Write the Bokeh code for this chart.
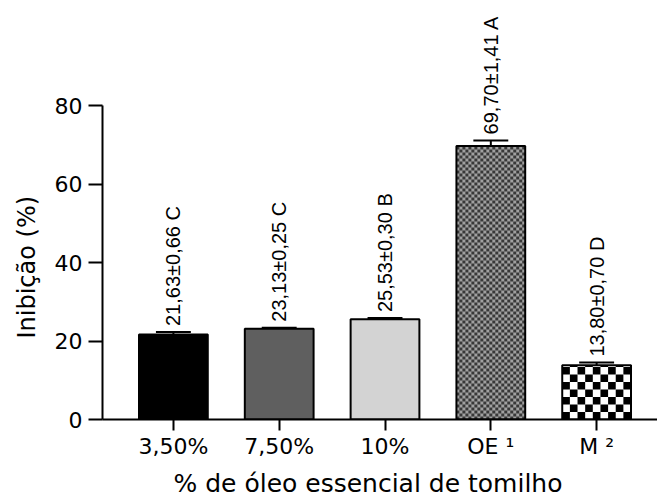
import numpy as np
from bokeh.plotting import figure
from bokeh.models import FixedTicker, Range1d, Title
from bokeh.core.properties import value
from bokeh.embed import file_html
from bokeh.resources import INLINE

# ---- data ----
categories = ["3,50%", "7,50%", "10%", "OE \u00b9", "M \u00b2"]
means = [21.63, 23.13, 25.53, 69.70, 13.80]
sds = [0.66, 0.25, 0.30, 1.41, 0.70]
letters = ["C", "C", "B", "A", "D"]
y_ticks = [0, 20, 40, 60, 80]
x_title = "% de \u00f3leo essencial de tomilho"
y_title = "Inibi\u00e7\u00e3o (%)"

# ---- styles ----
fills = ["#000000", "#5f5f5f", "#d3d3d3", "#a0a0a0", "#ffffff"]
checker_colors = [None, None, None, "#383838", "#000000"]
checker_px = [None, None, None, 3.0, 7.5]
FONT = "DejaVu Sans"
ANN_FONT = "Liberation Sans"

W, H = 657, 503
BL, BR, BT, BB = 101, 0, 0, 84
FW, FH = W - BL - BR, H - BT - BB
PX_X = 106.0            # px per category
PX_Y = 314.0 / 80.0     # px per y unit
x_start = -0.67
x_end = x_start + FW / PX_X
y_end = FH / PX_Y

xs = np.arange(len(categories), dtype=float)
m = np.array(means)
s = np.array(sds)
up = m + s
bw = 0.65

p = figure(width=W, height=H, output_backend="svg", toolbar_location=None,
           x_range=Range1d(x_start, x_end), y_range=Range1d(0, y_end),
           min_border_left=BL, min_border_right=BR, min_border_top=BT,
           min_border_bottom=BB)
p.outline_line_color = None
p.grid.visible = False
p.background_fill_color = "white"

# bars (fill)
p.vbar(x=xs, top=m, width=bw, bottom=0, fill_color=fills, line_color=None)

# checker patterns
ql, qr, qb, qt, qc = [], [], [], [], []
for i in range(len(categories)):
    col = checker_colors[i]
    if col is None:
        continue
    cpx = checker_px[i]
    ncols = int(round(bw * PX_X / cpx))
    dx = bw / ncols
    dy = cpx / PX_Y
    nrows = int(np.ceil(m[i] / dy))
    for r in range(nrows):
        for c in range(ncols):
            if (r + c) % 2 == 0:
                ql.append(xs[i] - bw / 2 + c * dx)
                qr.append(xs[i] - bw / 2 + (c + 1) * dx)
                qb.append(r * dy)
                qt.append(min((r + 1) * dy, m[i]))
                qc.append(col)
p.quad(left=ql, right=qr, bottom=qb, top=qt, fill_color=qc, line_color=None)

# bar outlines
p.vbar(x=xs, top=m, width=bw, bottom=0, fill_color=None, line_color="black",
       line_width=2)

# error bars (upper only)
cap = 0.165
p.segment(x0=xs, y0=m, x1=xs, y1=up, line_color="black", line_width=2)
p.segment(x0=xs - cap, y0=up, x1=xs + cap, y1=up, line_color="black", line_width=2)

# annotations
labels = [f"{a:.2f}\u00b1{b:.2f} {l}".replace(".", ",") for a, b, l in zip(means, sds, letters)]
p.text(x=xs, y=up + 6 / PX_Y, text=labels, angle=np.pi / 2, text_align="left",
       text_baseline="middle", text_font=value(ANN_FONT), text_font_size="20px",
       text_color="black")

# axes
p.yaxis.ticker = FixedTicker(ticks=y_ticks)
p.yaxis.bounds = (y_ticks[0], y_ticks[-1])
p.xaxis.ticker = FixedTicker(ticks=list(xs))
p.xaxis.major_label_overrides = {int(i): c for i, c in zip(xs, categories)}
for ax in (p.xaxis[0], p.yaxis[0]):
    ax.axis_line_width = 2
    ax.axis_line_color = "black"
    ax.major_tick_line_width = 2
    ax.major_tick_line_color = "black"
    ax.major_tick_in = 0
    ax.minor_tick_line_color = None
    ax.major_label_text_font = FONT
    ax.major_label_text_font_size = "22px"
    ax.major_label_text_color = "black"
p.yaxis.major_tick_out = 14
p.xaxis.major_tick_out = 11
p.yaxis.major_label_standoff = 6
p.xaxis.major_label_standoff = 3

# axis titles
p.add_layout(Title(text=x_title, text_font=FONT, text_font_size="25px",
                   text_font_style="normal", text_color="black",
                   align="left", offset=71, standoff=11), "below")
p.add_layout(Title(text=y_title, text_font=FONT, text_font_size="24px",
                   text_font_style="normal", text_color="black",
                   align="left", offset=81, standoff=21), "left")

open("out.html", "w").write(file_html(p, INLINE))
